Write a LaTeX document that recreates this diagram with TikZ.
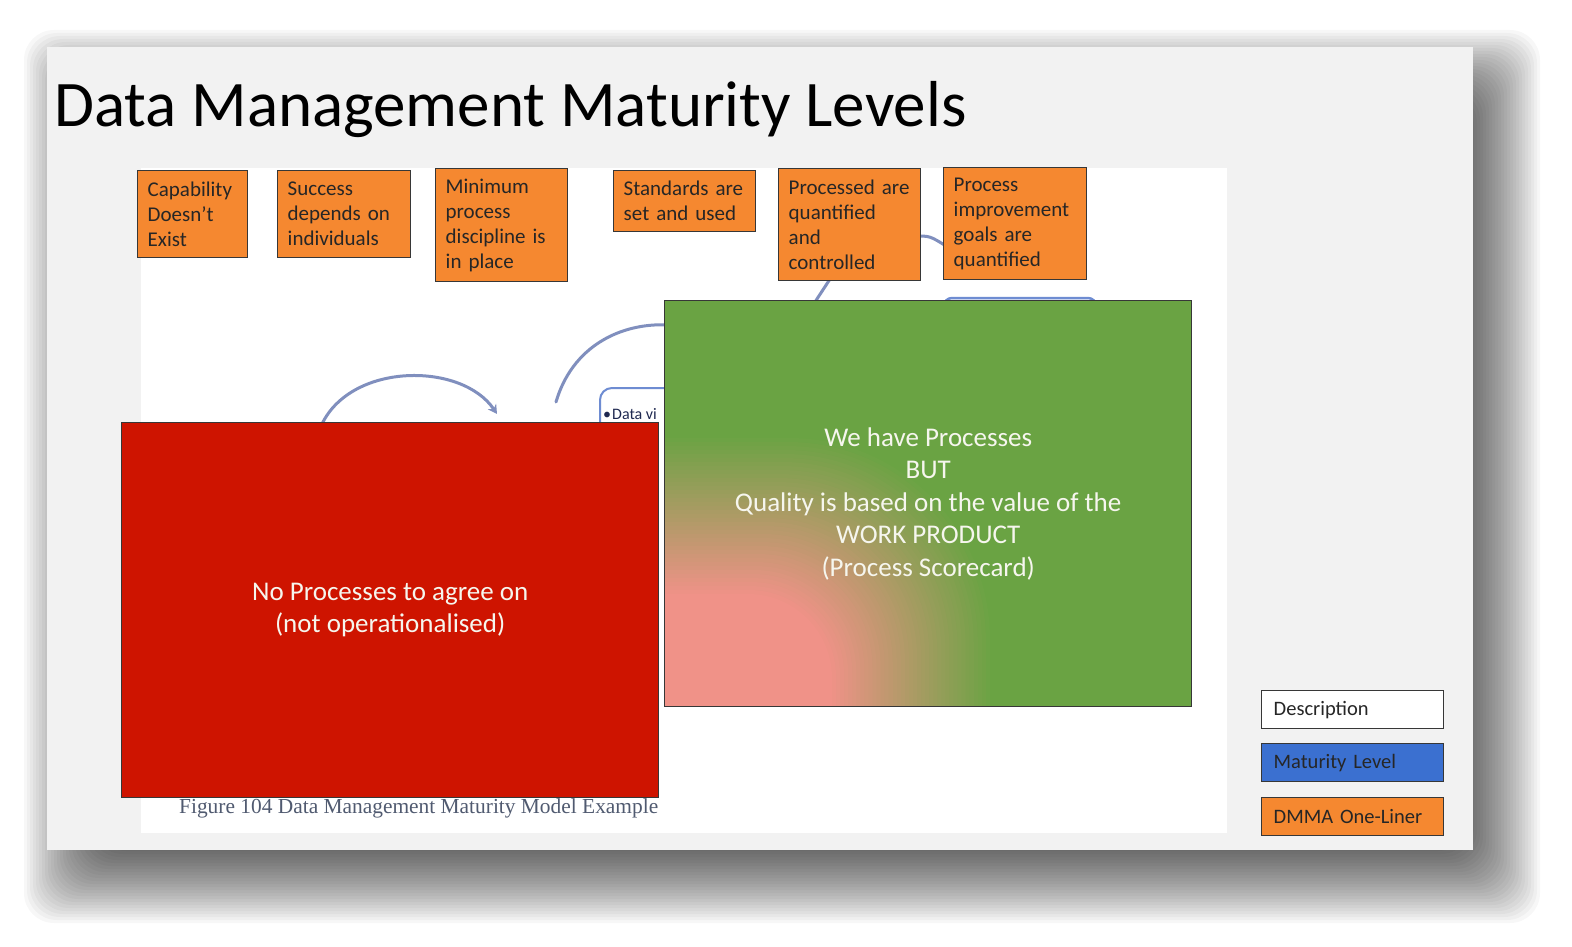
\documentclass[tikz,border=0pt]{standalone}
\usepackage{fontspec}
\setmainfont{Carlito}
\newfontfamily\capfont{Liberation Serif}
\usetikzlibrary{arrows.meta}
\definecolor{slidebg}{RGB}{242,242,242}
\definecolor{orangec}{RGB}{245,136,48}
\definecolor{boxline}{RGB}{55,55,55}
\definecolor{textdark}{RGB}{38,38,38}
\definecolor{redc}{RGB}{206,20,0}
\definecolor{greenc}{RGB}{106,163,67}
\definecolor{pinkc}{RGB}{240,146,136}
\definecolor{bluec}{RGB}{59,112,208}
\definecolor{arcc}{RGB}{128,143,190}
\definecolor{lightblue}{RGB}{110,140,210}
\definecolor{capc}{RGB}{80,90,112}
\definecolor{navyc}{RGB}{30,40,80}
\definecolor{softwhite}{RGB}{246,246,238}
\begin{document}
\begin{tikzpicture}[x=1pt,y=-1pt,
  obox/.style={draw=boxline, line width=1.4pt, fill=orangec, anchor=north west,
    inner xsep=10pt, inner ysep=0pt, align=left, text=textdark,
    font=\fontsize{21}{25}\selectfont},
  lbox/.style={draw=boxline, line width=1.4pt, anchor=north west, minimum height=38pt,
    inner xsep=12pt, inner ysep=0pt, text width=158pt, align=left, text=textdark,
    font=\fontsize{20.5}{23}\selectfont},
  arcline/.style={draw=arcc, line width=3pt, line cap=round},
  bigbox/.style={draw=boxline, line width=1.4pt, anchor=north west, align=center,
    inner sep=0pt, text=softwhite, font=\fontsize{27}{32.5}\selectfont}]
\useasboundingbox (0,0) rectangle (1572,947);
\fill[white] (0,0) rectangle (1572,947);
% soft shadow of the slide
\foreach \i in {0,...,29}{
  \pgfmathsetmacro{\d}{-45+3*\i}
  \fill[black, opacity=0.03, rounded corners=30pt] ({69+\d},{75+\d}) rectangle ({1495-\d},{878-\d});
}
\node[fill=slidebg, anchor=north west, minimum width=1426pt, minimum height=803pt, inner sep=0pt] (slide) at (47,47) {};
\node[anchor=base west, inner sep=0pt, font=\fontsize{65}{72}\selectfont, text=black] (title) at (54,127) {Data Management Maturity Levels};
% embedded figure area
\node[fill=white, anchor=north west, minimum width=1086pt, minimum height=665pt, inner sep=0pt] (fig) at (141,168) {};
% background arcs of the figure
\coordinate (a1s) at (322,424);
\coordinate (a1e) at (497,414);
\draw[arcline, -{Stealth[length=9pt,width=10pt]}] (a1s) .. controls (352,362) and (462,362) .. (a1e);
\coordinate (a2s) at (556,402);
\coordinate (a2e) at (670,325);
\draw[arcline] (a2s) .. controls (572,347) and (620,322) .. (a2e);
\coordinate (a3s) at (815,302);
\coordinate (a3e) at (832,276);
\draw[arcline] (a3s) -- (a3e);
\coordinate (a4s) at (915,236);
\coordinate (a4e) at (946,246);
\draw[arcline] (a4s) .. controls (930,236) .. (a4e);
\coordinate (b1) at (944,306);
\coordinate (b2) at (1096,306);
\draw[lightblue, line width=2.5pt, rounded corners=8pt] (b1) |- (1020,298) -| (b2);
% Data vi box
\coordinate (dv1) at (600,470);
\coordinate (dv2) at (700,388);
\draw[lightblue, line width=2pt, rounded corners=12pt] (dv1) |- (dv2);
\node[anchor=base west, inner sep=0pt, font=\fontsize{16}{18}\selectfont, text=navyc] (datavi) at (603,419) {\textbullet\kern1pt Data vi};
% caption
\node[anchor=base west, inner sep=0pt, font=\capfont\fontsize{21.4}{24}\selectfont, text=capc] (caption) at (179,813) {Figure 104 Data Management Maturity Model Example};
% orange one-liners
\node[obox, text width=90pt, minimum height=87pt] (o1) at (137,170) {Capability\\Doesn’t\\Exist};
\node[obox, text width=113pt, minimum height=87pt] (o2) at (277,170) {Success\\depends on\\individuals};
\node[obox, text width=112pt, minimum height=113pt] (o3) at (435,168) {Minimum\\process\\discipline is\\in place};
\node[obox, text width=122pt, minimum height=61pt] (o4) at (613,170) {Standards are\\set and used};
\node[obox, text width=122pt, minimum height=112pt] (o5) at (778,168) {Processed are\\quantified\\and\\controlled};
\node[obox, text width=123pt, minimum height=112pt] (o6) at (943,167) {Process\\improvement\\goals are\\quantified};
% red box
\node[bigbox, fill=redc, minimum width=537pt, minimum height=375pt] (red) at (121,422) {No Processes to agree on\\(not operationalised)};
% green box with pink gradient from the lower left corner
\begin{scope}
  \clip (664,300) rectangle (1191,706);
  \fill[greenc] (664,300) rectangle (1191,706);
  \foreach \i in {0,...,40}{
    \pgfmathsetmacro{\t}{\i/40}
    \pgfmathsetmacro{\rx}{330-\t*(330-168)}
    \pgfmathsetmacro{\ry}{272-\t*(272-112)}
    \pgfmathsetmacro{\rc}{0.75*\ry}
    \pgfmathsetmacro{\p}{100*\t}
    \fill[pinkc!\p!greenc, rounded corners=\rc pt] ({664-\rx},{706-\ry}) rectangle ({664+\rx},{706+\ry});
  }
\end{scope}
\node[bigbox, minimum width=527pt, minimum height=406pt] (green) at (664,300) {We have Processes\\BUT\\Quality is based on the value of the\\WORK PRODUCT\\(Process Scorecard)};
% legend
\node[lbox, fill=white] (l1) at (1261,690) {Description};
\node[lbox, fill=bluec] (l2) at (1261,743) {Maturity Level};
\node[lbox, fill=orangec] (l3) at (1261,797) {DMMA One-Liner};
\end{tikzpicture}
\end{document}
